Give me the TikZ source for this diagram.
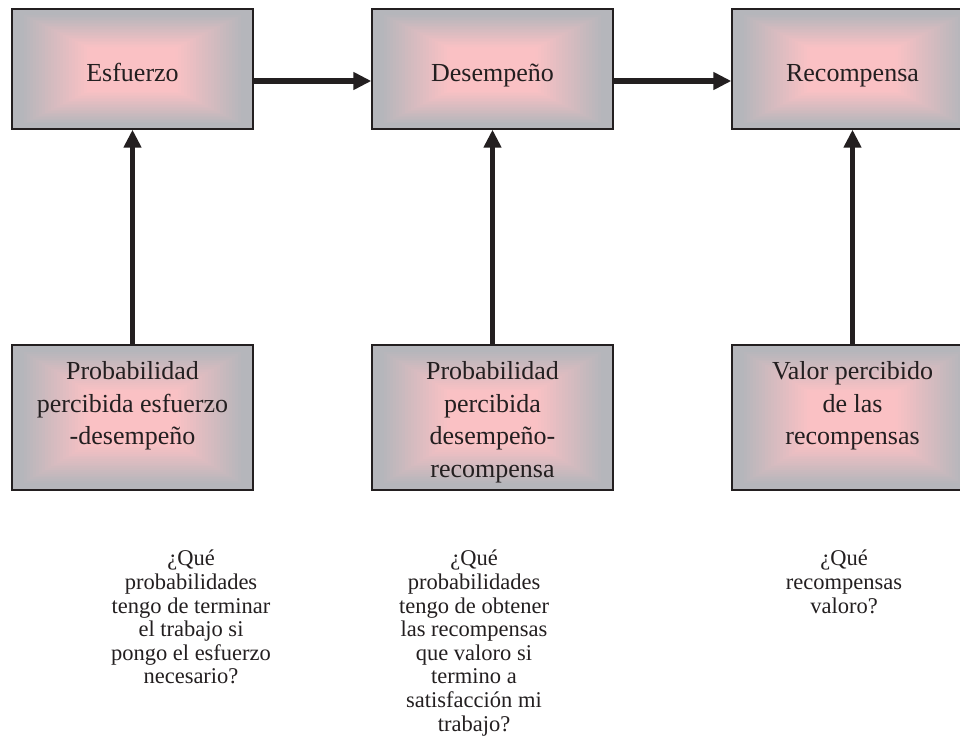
\documentclass[tikz,border=0pt]{standalone}
\usepackage{fontspec}
\setmainfont{Liberation Serif}
\usetikzlibrary{arrows.meta,calc}

\definecolor{edgegrey}{RGB}{181,182,187}
\definecolor{corepink}{RGB}{250,193,196}
\definecolor{inkline}{RGB}{35,31,32}

\tikzset{
  % rectangular "from centre" gradient: grey rim fading into a pink core
  glow/.style={path picture={
    \foreach \k in {0,...,39}{
      \pgfmathsetmacro\f{\k/40}
      \pgfmathsetmacro\p{max(0,min(100,100*(\f-0.08)/0.55))}
      \fill[corepink!\p!edgegrey]
        ($(path picture bounding box.south west)!0.5*\f!(path picture bounding box.north east)$)
        rectangle
        ($(path picture bounding box.north east)!0.5*\f!(path picture bounding box.south west)$);
    }}},
  stage/.style={draw=inkline, line width=1.4pt, glow, minimum width=241, minimum height=120, inner sep=0},
  factor/.style={stage, minimum height=145},
  boxtext/.style={font=\fontsize{26}{32.5}\selectfont, align=center, text=inkline, inner sep=0},
  asktext/.style={font=\fontsize{22.5}{23.6}\selectfont, align=center, text=inkline, inner sep=0, anchor=north},
  link/.style={draw=inkline, line width=5.5pt, -{Triangle[length=18pt,width=17pt]}}
}

\begin{document}
\begin{tikzpicture}[x=1pt,y=-1pt]
\useasboundingbox (0,0) rectangle (960,742);
\fill[white] (0,0) rectangle (960,742);
\clip (0,0) rectangle (960,742);

% top row
\node[stage] (esf) at (132.5,69) {};
\node[stage] (des) at (492.5,69) {};
\node[stage] (rec) at (852.5,69) {};
\node[boxtext, anchor=base] (esft) at ($(esf.center)+(0,12)$) {Esfuerzo};
\node[boxtext, anchor=base] (dest) at ($(des.center)+(0,12)$) {Desempeño};
\node[boxtext, anchor=base] (rect) at ($(rec.center)+(0,12)$) {Recompensa};

% bottom row
\node[factor] (pe) at (132.5,417.5) {};
\node[factor] (pd) at (492.5,417.5) {};
\node[factor] (vr) at (852.5,417.5) {};
\node[boxtext, anchor=north] (pet) at ($(pe.north)+(0,17)$) {Probabilidad\\percibida esfuerzo\\-desempeño};
\node[boxtext, anchor=north] (pdt) at ($(pd.north)+(0,17)$) {Probabilidad\\percibida\\desempeño-\\recompensa};
\node[boxtext, anchor=north] (vrt) at ($(vr.north)+(0,17)$) {Valor percibido\\de las\\recompensas};

% connectors
\draw[link] ($(esf.east)+(0,12)$) -- ($(des.west)+(0,12)$);
\draw[link] ($(des.east)+(0,12)$) -- ($(rec.west)+(0,12)$);
\draw[link] (pe.north) -- (esf.south);
\draw[link] (pd.north) -- (des.south);
\draw[link] (vr.north) -- (rec.south);

% questions
\node[asktext] (q1) at (191,550) {¿Qué\\probabilidades\\tengo de terminar\\el trabajo si\\pongo el esfuerzo\\necesario?};
\node[asktext] (q2) at (474,550) {¿Qué\\probabilidades\\tengo de obtener\\las recompensas\\que valoro si\\termino a\\satisfacción mi\\trabajo?};
\node[asktext] (q3) at (844,550) {¿Qué\\recompensas\\valoro?};
\end{tikzpicture}
\end{document}
